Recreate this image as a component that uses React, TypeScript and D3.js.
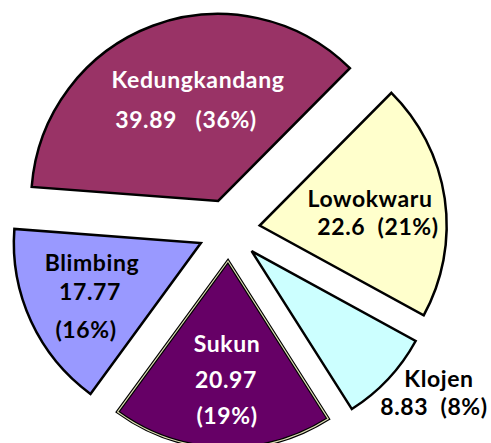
import React from 'react';
import * as d3 from 'd3';

const districts = ['Kedungkandang', 'Lowokwaru', 'Klojen', 'Sukun', 'Blimbing'];
const amounts = [39.89, 22.6, 8.83, 20.97, 17.77];
const percents = ['36%', '21%', '8%', '19%', '16%'];
const fills = ['#993366', '#ffffcc', '#ccffff', '#660066', '#9999ff'];
const textColors = ['#ffffff', '#000000', '#000000', '#ffffff', '#000000'];

// label lines per slice, with the line's centre and baseline in px
const labelLines = [
  [
    { text: districts[0], x: 198, y: 88 },
    { text: `${amounts[0]}\u00a0\u00a0\u00a0(${percents[0]})`, x: 186, y: 128 },
  ],
  [
    { text: districts[1], x: 370, y: 207 },
    { text: `${amounts[1]}\u00a0\u00a0(${percents[1]})`, x: 378, y: 235 },
  ],
  [
    { text: districts[2], x: 439, y: 387 },
    { text: `${amounts[2]}\u00a0\u00a0(${percents[2]})`, x: 434, y: 415 },
  ],
  [
    { text: districts[3], x: 227, y: 352 },
    { text: `${amounts[3]}`, x: 226, y: 388 },
    { text: `(${percents[3]})`, x: 227, y: 424 },
  ],
  [
    { text: districts[4], x: 92, y: 271 },
    { text: `${amounts[4]}`, x: 90, y: 300 },
    { text: `(${percents[4]})`, x: 86, y: 338 },
  ],
];

const W = 491;
const H = 443;
const cx = 229;
const cy = 230;
const radius = 187;
const explode = 31;

export default function App() {
  const pie = d3
    .pie<number>()
    .sort(null)
    .startAngle((-85.7 * Math.PI) / 180)
    .endAngle(((360 - 85.7) * Math.PI) / 180);
  const arcs = pie(amounts);
  const arc = d3.arc<d3.PieArcDatum<number>>().innerRadius(0).outerRadius(radius);

  return (
    <svg
      width={W}
      height={H}
      style={{ position: 'absolute', left: 0, top: 0 }}
      fontFamily="Lato, 'Open Sans', sans-serif"
      fontWeight="bold"
    >
      <rect width={W} height={H} fill="#ffffff" />
      {arcs.map((a, i) => {
        const mid = (a.startAngle + a.endAngle) / 2;
        const dx = Math.sin(mid) * explode;
        const dy = -Math.cos(mid) * explode;
        const d = arc(a) || '';
        return (
          <g key={districts[i]} transform={`translate(${cx + dx},${cy + dy})`}>
            <path d={d} fill={fills[i]} stroke="#000" strokeWidth={i === 3 ? 3.5 : 2.5} strokeLinejoin="miter" />
            {i === 3 && <path d={d} fill="none" stroke="#dcdcb4" strokeWidth={1.2} />}
          </g>
        );
      })}
      {labelLines.map((lines, i) =>
        lines.map((l, j) => (
          <text
            key={`${i}-${j}`}
            x={l.x}
            y={l.y}
            textAnchor="middle"
            fontSize={23}
            letterSpacing={0.6}
            fill={textColors[i]}
          >
            {l.text}
          </text>
        ))
      )}
    </svg>
  );
}
